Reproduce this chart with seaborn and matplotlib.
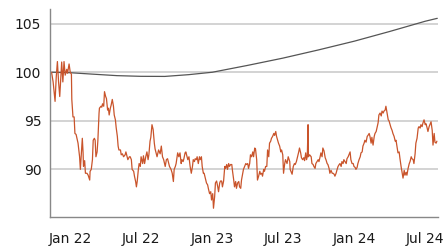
import pandas as pd
import matplotlib
matplotlib.use("Agg")
import matplotlib.pyplot as plt
import matplotlib.dates as mdates
import seaborn as sns

# smooth reference path (grey)
ref_dates = ["2021-11-15", "2022-01-01", "2022-03-01", "2022-05-01", "2022-07-01",
             "2022-09-01", "2022-11-01", "2023-01-01", "2023-04-01", "2023-07-01",
             "2023-10-01", "2024-01-01", "2024-04-01", "2024-07-01", "2024-08-01"]
ref_values = [100.0, 99.95, 99.8, 99.65, 99.58, 99.57, 99.75, 100.0, 100.7, 101.45,
              102.3, 103.2, 104.2, 105.25, 105.55]

# observed index (orange), days counted from 2022-01-01
obs_days = [-48, -44, -39, -36, -33, -30, -27, -22, -19, -16, -13, -9, -7, -3, 0, 3, 4, 7, 10, 12,
            15, 20, 24, 26, 28, 31, 33, 34, 37, 39, 43, 46, 50, 51, 54, 57, 59, 62, 64, 66,
            69, 71, 74, 75, 79, 81, 83, 86, 88, 91, 93, 96, 98, 100, 103, 105, 108, 111, 113, 116,
            118, 121, 123, 125, 129, 131, 134, 137, 141, 143, 146, 148, 152, 154, 157, 159, 163, 165, 168, 170,
            172, 175, 177, 180, 182, 186, 188, 191, 194, 197, 200, 202, 205,
            207, 210, 213, 216, 218, 223, 227, 231, 234, 237, 240, 244, 247, 250, 253, 255, 259, 262, 265, 267,
            270, 272, 276, 279, 282, 285, 287, 290, 292, 295, 297, 300, 302, 305, 308, 311, 314, 316, 319, 321,
            324, 326, 329, 332, 334, 337, 339, 342, 344, 348, 350, 353, 355, 358, 361, 363, 366, 368, 371, 373,
            376, 379, 381, 384, 386, 389, 391, 394, 397, 399, 402, 404, 407, 409, 412, 415, 417, 420, 422, 425,
            427, 430, 433, 435, 438, 440, 443, 445, 448, 451, 453, 456, 458, 461, 463, 466, 469, 471, 474, 476,
            479, 481, 484, 487, 489, 492, 494, 497, 499, 502, 505, 507, 510, 512, 515, 517, 520, 523, 525, 528,
            530, 533, 535, 538, 541, 543, 546, 548, 551, 553, 557, 560, 564,
            565, 570, 573, 576, 578, 581, 584, 587, 589, 592, 594, 597, 600, 602, 605, 607, 609, 611, 612, 615,
            619, 621, 624, 626, 629, 631, 634, 637, 639, 642, 644, 647, 649, 652, 655, 657, 660, 662, 665, 667,
            670, 673, 675, 678, 680, 683, 685, 688, 691, 693, 696, 698, 701, 703, 706, 709, 711, 714, 716, 719,
            721, 724, 727, 729, 732, 734, 737, 739, 742, 745, 747, 750, 752, 755, 757, 760, 763, 765, 768, 770,
            773, 775, 778, 781, 783, 786, 788, 791, 793, 796, 799, 801, 804, 806, 809, 811, 814, 817, 819, 822,
            824, 827, 829, 832, 835, 837, 840, 842, 845, 847, 850, 853, 855, 858, 860, 863, 865, 868, 871, 873,
            876, 878, 881, 883, 886, 888, 891, 894, 896, 899, 901, 904, 906, 909, 912, 914, 917, 919, 922, 924,
            927, 930, 932, 935, 937, 940, 942]
obs_values = [100.0, 99.0, 97.0, 99.5, 101.1, 99.0, 97.5, 101.05, 99.0, 101.1, 99.7, 100.3, 99.9, 100.85, 100.0, 99.8, 97.2, 95.4, 95.4, 93.7,
              93.6, 92.7, 91.3, 90.0, 91.3, 93.2, 91.7, 90.3, 90.9, 89.6, 89.6, 89.4, 88.9, 89.8, 90.0, 91.0, 93.0, 93.2, 93.0, 91.3,
              91.8, 93.0, 95.8, 96.3, 96.5, 96.4, 96.75, 96.5, 98.0, 97.5, 97.3, 96.1, 96.3, 95.6, 96.3, 96.6, 97.2, 96.5, 95.6, 95.1,
              94.3, 93.4, 92.4, 92.0, 92.0, 91.5, 91.6, 91.3, 91.5, 91.8, 91.3, 91.0, 91.3, 91.3, 91.0, 90.0, 89.8, 89.3, 88.75, 88.2,
              88.75, 90.0, 90.6, 90.3, 91.3, 90.6, 91.4, 90.6, 91.3, 91.8, 91.0, 91.5, 92.9,
              93.3, 94.6, 94.1, 92.7, 92.1, 91.3, 92.0, 91.6, 92.4, 91.3, 91.0, 90.3, 91.0, 91.1, 90.6, 90.3, 90.0, 89.6, 88.75, 90.0,
              90.3, 90.6, 91.7, 91.3, 91.7, 90.6, 91.0, 90.8, 91.1, 91.7, 91.8, 91.3, 91.0, 91.3, 90.3, 89.6, 90.3, 91.0, 90.8, 91.1,
              91.0, 91.3, 90.6, 91.3, 91.0, 91.3, 90.3, 89.6, 89.6, 88.9, 88.6, 88.4, 88.0, 87.5, 87.7, 86.85, 87.5, 86.0, 87.2, 88.6,
              88.8, 88.2, 87.7, 88.6, 88.8, 88.8, 88.2, 88.8, 90.3, 90.1, 90.5, 90.0, 90.6, 90.3, 90.5, 90.5, 89.8, 88.9, 88.2, 88.75,
              88.05, 88.6, 88.75, 88.2, 88.05, 88.9, 89.6, 90.0, 90.3, 90.6, 90.5, 90.6, 90.1, 90.6, 91.5, 91.3, 91.8, 91.3, 92.2, 92.1,
              91.0, 88.9, 89.3, 89.8, 89.5, 89.6, 89.3, 90.0, 89.8, 90.3, 90.3, 92.0, 91.3, 92.7, 92.9, 93.2, 93.4, 93.7, 93.5, 93.9,
              93.4, 93.0, 92.7, 92.4, 91.8, 92.0, 91.5, 89.6, 90.6, 91.0, 90.6, 91.3, 90.8,
              90.0, 89.5, 90.3, 90.6, 90.5, 90.8, 91.3, 91.8, 92.2, 91.7, 91.2, 91.0, 91.2, 90.9, 91.7, 91.0, 91.3, 94.6, 91.3, 91.5,
              91.3, 90.6, 90.5, 90.3, 90.1, 90.6, 90.8, 91.0, 90.8, 91.3, 91.7, 91.3, 92.2, 91.9, 91.2, 91.0, 90.6, 90.5, 90.1, 89.6,
              89.9, 89.6, 89.6, 89.5, 89.3, 89.6, 89.9, 90.3, 90.5, 90.6, 90.3, 90.8, 90.6, 91.0, 90.8, 90.6, 91.1, 91.3, 91.5, 91.8,
              91.0, 90.6, 90.6, 90.3, 90.2, 90.0, 90.2, 90.6, 91.0, 91.3, 91.7, 91.8, 92.4, 92.7, 93.0, 92.8, 93.4, 93.5, 93.7, 93.4,
              92.7, 93.3, 92.5, 93.4, 93.7, 93.9, 94.25, 94.8, 95.6, 95.8, 95.5, 96.0, 95.8, 96.0, 96.1, 96.5, 95.8, 95.1, 95.0, 94.6,
              94.3, 94.0, 93.7, 93.4, 92.9, 93.0, 92.2, 91.7, 91.8, 91.15, 90.3, 89.6, 89.1, 89.9, 89.4, 89.7, 89.4, 90.1, 90.6, 90.8,
              91.3, 91.1, 91.0, 90.6, 91.6, 92.7, 93.2, 94.25, 94.4, 94.25, 94.6, 94.4, 94.75, 95.1, 94.6, 94.7, 94.25, 93.9, 94.4, 94.6,
              94.9, 94.0, 92.5, 93.7, 92.8, 92.7, 92.9]

start = pd.Timestamp("2022-01-01")
ref = pd.DataFrame({"date": pd.to_datetime(ref_dates), "value": ref_values})
obs = pd.DataFrame({"date": start + pd.to_timedelta(obs_days, unit="D"), "value": obs_values})

sns.set_style("white")
plt.rcParams["font.family"] = ["DejaVu Sans"]

fig = plt.figure(figsize=(4.47, 2.46), dpi=100)
ax = fig.add_axes([0.111, 0.118, 0.869, 0.845])

sns.lineplot(data=ref, x="date", y="value", ax=ax, color="#555555", linewidth=0.9)
sns.lineplot(data=obs, x="date", y="value", ax=ax, color="#C9542B", linewidth=0.9)

ax.set_ylim(85.1, 106.5)
ax.set_xlim(pd.Timestamp("2021-11-09"), pd.Timestamp("2024-08-03"))
ax.set_yticks([90, 95, 100, 105])
ax.xaxis.set_major_locator(mdates.MonthLocator(bymonth=[1, 7]))
ax.xaxis.set_major_formatter(mdates.DateFormatter("%b %y"))

ax.grid(axis="y", color="#cccccc", linewidth=1.2)
ax.set_axisbelow(True)
ax.set_xlabel("")
ax.set_ylabel("")
sns.despine(ax=ax)
for s in ["left", "bottom"]:
    ax.spines[s].set_color("#888888")
    ax.spines[s].set_linewidth(1.0)
ax.tick_params(axis="x", length=5, width=1, color="#888888", pad=6, labelsize=10, labelcolor="#1a1a1a")
ax.tick_params(axis="y", length=0, pad=6, labelsize=10, labelcolor="#1a1a1a")

fig.savefig("out.png", dpi=100)
